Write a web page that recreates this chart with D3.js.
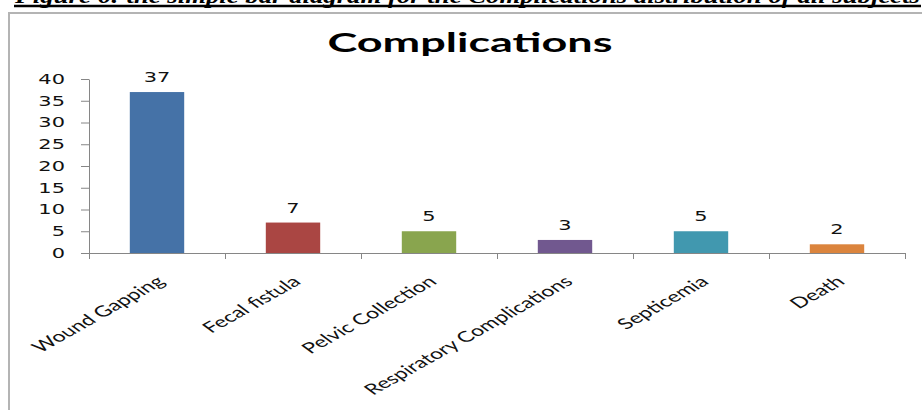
<!DOCTYPE html>
<html>
<head>
<meta charset="utf-8">
<script src="https://cdn.jsdelivr.net/npm/d3@7"></script>
<style>
  body { margin: 0; background: #fff; }
  svg { display: block; }
</style>
</head>
<body>
<div id="chart"></div>
<script>
// Chart data
const categories = ["Wound Gapping", "Fecal fistula", "Pelvic Collection", "Respiratory Complications", "Septicemia", "Death"];
const values = [37, 7, 5, 3, 5, 2];
const colors = ["#4572A7", "#AA4643", "#89A54E", "#71588F", "#4198AF", "#DB843D"];
const yTicks = [0, 5, 10, 15, 20, 25, 30, 35, 40];
const caption = "Figure 6: the simple bar diagram for the Complications distribution of all subjects";
const title = "Complications";

const W = 922, H = 410;
const stretch = 1.55; // the source picture is stretched sideways
const plot = { left: 89, right: 905, top: 79, bottom: 253 };
const axisColor = "#868686";

const svg = d3.select("#chart").append("svg")
    .attr("width", W)
    .attr("height", H);

// widen a plain text element the same way the picture is widened
function widen(sel) {
    sel.each(function () {
        const len = this.getComputedTextLength();
        d3.select(this)
            .attr("textLength", len * stretch)
            .attr("lengthAdjust", "spacingAndGlyphs");
    });
}

// Caption above the chart frame (cut off at the top, as in the source)
svg.append("text")
    .attr("x", 15)
    .attr("y", 3)
    .attr("font-family", "Liberation Serif")
    .attr("font-style", "italic")
    .attr("font-weight", "bold")
    .attr("font-size", 22)
    .attr("textLength", 905)
    .attr("lengthAdjust", "spacingAndGlyphs")
    .text(caption);
svg.append("line")
    .attr("x1", 14).attr("x2", 921)
    .attr("y1", 6).attr("y2", 6)
    .attr("stroke", "#000")
    .attr("stroke-width", 2.5);

// Chart frame
svg.append("rect")
    .attr("x", 9).attr("y", 13)
    .attr("width", W + 20).attr("height", H + 20)
    .attr("fill", "none")
    .attr("stroke", "#b4b4b4")
    .attr("stroke-width", 2);

// Title
svg.append("text")
    .attr("x", 470)
    .attr("y", 52)
    .attr("text-anchor", "middle")
    .attr("font-family", "Lato")
    .attr("font-weight", "bold")
    .attr("font-size", 26)
    .attr("textLength", 285)
    .attr("lengthAdjust", "spacingAndGlyphs")
    .attr("fill", "#000")
    .text(title);

// Scales
const x = d3.scaleBand()
    .domain(categories)
    .range([plot.left, plot.right])
    .paddingInner(0.6)
    .paddingOuter(0.3);
const xEdge = d3.scaleLinear()
    .domain([0, categories.length])
    .range([plot.left, plot.right]);
const y = d3.scaleLinear()
    .domain([0, 40])
    .range([plot.bottom, plot.top]);

// Y axis
const yAxis = svg.append("g")
    .attr("transform", `translate(${plot.left},0)`)
    .call(d3.axisLeft(y).tickValues(yTicks).tickSize(8).tickSizeOuter(0).tickPadding(16));
yAxis.selectAll("path, line").attr("stroke", axisColor);
yAxis.selectAll("text")
    .attr("font-family", "DejaVu Sans")
    .attr("font-size", 13.5)
    .attr("fill", "#111")
    .call(widen);

// X axis (ticks between categories)
const xAxis = svg.append("g")
    .attr("transform", `translate(0,${plot.bottom})`)
    .call(d3.axisBottom(xEdge).tickValues(d3.range(categories.length + 1)).tickFormat("").tickSize(6).tickSizeOuter(0));
xAxis.selectAll("path, line").attr("stroke", axisColor);

// Bars
svg.append("g").selectAll("rect")
    .data(values)
    .join("rect")
        .attr("x", (d, i) => x(categories[i]))
        .attr("y", d => y(d))
        .attr("width", x.bandwidth())
        .attr("height", d => y(0) - y(d))
        .attr("fill", (d, i) => colors[i]);

// Value labels
svg.append("g").selectAll("text")
    .data(values)
    .join("text")
        .attr("x", (d, i) => x(categories[i]) + x.bandwidth() / 2)
        .attr("y", d => y(d) - 10)
        .attr("text-anchor", "middle")
        .attr("font-family", "DejaVu Sans")
        .attr("font-size", 13.5)
        .attr("fill", "#111")
        .text(d => d)
        .call(widen);

// Category labels, rotated then widened
svg.append("g").selectAll("text")
    .data(categories)
    .join("text")
        .attr("transform", d => `translate(${x(d) + x.bandwidth() / 2 + 9},283) scale(${stretch},1) rotate(-41)`)
        .attr("text-anchor", "end")
        .attr("font-family", "Lato")
        .attr("font-size", 15)
        .attr("fill", "#111")
        .text(d => d);
</script>
</body>
</html>
